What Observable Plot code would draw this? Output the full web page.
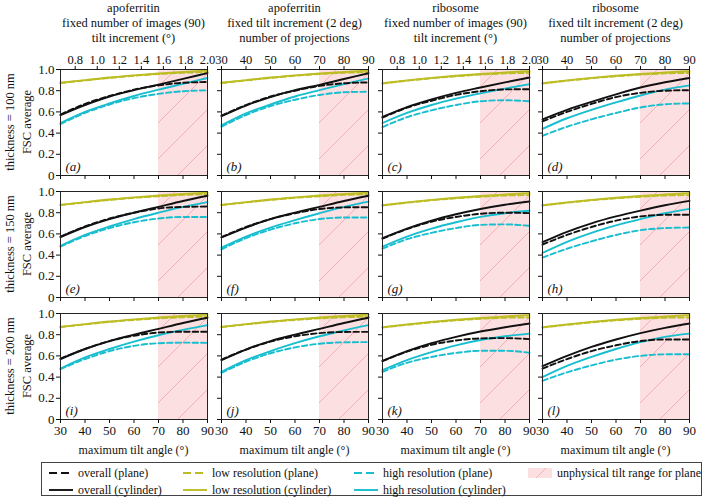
<!DOCTYPE html>
<html>
<head>
<meta charset="utf-8">
<script src="https://cdn.jsdelivr.net/npm/d3@7"></script>
<script src="https://cdn.jsdelivr.net/npm/@observablehq/plot@0.6"></script>
<style>
  html, body { margin: 0; padding: 0; background: #fff; }
  #root { position: relative; width: 705px; height: 502px; overflow: hidden; font-family: "Liberation Serif", "DejaVu Serif", serif; color: #111; }
  .t { position: absolute; white-space: nowrap; font-size: 12.5px; line-height: 15px; }
  .c { transform: translate(-50%, -50%); text-align: center; }
  .rot { transform: translate(-50%, -50%) rotate(-90deg); }
  .panel { position: absolute; }
  .panel svg { overflow: visible; font-family: "Liberation Serif", "DejaVu Serif", serif !important; }
  .panel svg text { font-family: "Liberation Serif", "DejaVu Serif", serif !important; }
  #legend { position: absolute; left: 41px; top: 462px; width: 661px; height: 34px; border: 1px solid #444; box-sizing: border-box; }
  .li { position: absolute; font-size: 12px; white-space: nowrap; transform: translateY(-50%); }
  .sw { position: absolute; transform: translateY(-50%); }
</style>
</head>
<body>
<div id="root"></div>
<script>
// ---------------- data ----------------
const angles = [30, 40, 50, 60, 70, 80, 90];
const panelLetters = ["a","b","c","d","e","f","g","h","i","j","k","l"];
const columnTitles = [
  ["apoferritin", "fixed number of images (90)", "tilt increment (°)"],
  ["apoferritin", "fixed tilt increment (2 deg)", "number of projections"],
  ["ribosome", "fixed number of images (90)", "tilt increment (°)"],
  ["ribosome", "fixed tilt increment (2 deg)", "number of projections"]
];
const rowLabels = ["thickness = 100 nm", "thickness = 150 nm", "thickness = 200 nm"];
const yLabel = "FSC average";
const xLabel = "maximum tilt angle (°)";
const angleTicks = [30, 40, 50, 60, 70, 80, 90];
const incrementTicks = [0.8, 1.0, 1.2, 1.4, 1.6, 1.8, 2.0];
const projectionTicks = [30, 40, 50, 60, 70, 80, 90];
const yTicks = [0, 0.2, 0.4, 0.6, 0.8, 1.0];
const yTickLabels = ["0", "0.2", "0.4", "0.6", "0.8", "1.0"];
const unphysicalRange = [70, 90];

// one row per panel (a..l), values at angles 30..90
const overallPlane = [
  [0.575, 0.675, 0.750, 0.810, 0.850, 0.875, 0.882],
  [0.565, 0.665, 0.745, 0.800, 0.845, 0.870, 0.878],
  [0.545, 0.640, 0.705, 0.760, 0.795, 0.812, 0.814],
  [0.510, 0.600, 0.675, 0.740, 0.780, 0.800, 0.805],
  [0.575, 0.670, 0.745, 0.800, 0.840, 0.855, 0.858],
  [0.570, 0.665, 0.740, 0.795, 0.835, 0.850, 0.852],
  [0.555, 0.645, 0.715, 0.760, 0.790, 0.800, 0.796],
  [0.500, 0.590, 0.665, 0.725, 0.765, 0.780, 0.780],
  [0.575, 0.665, 0.740, 0.790, 0.820, 0.828, 0.828],
  [0.565, 0.660, 0.735, 0.785, 0.815, 0.826, 0.827],
  [0.550, 0.640, 0.705, 0.745, 0.765, 0.768, 0.758],
  [0.480, 0.570, 0.645, 0.700, 0.740, 0.755, 0.755]
];
const overallCylinder = [
  [0.570, 0.665, 0.745, 0.805, 0.858, 0.912, 0.966],
  [0.560, 0.660, 0.740, 0.805, 0.855, 0.910, 0.965],
  [0.552, 0.645, 0.718, 0.780, 0.830, 0.878, 0.924],
  [0.530, 0.620, 0.695, 0.765, 0.830, 0.880, 0.920],
  [0.570, 0.665, 0.740, 0.800, 0.855, 0.910, 0.960],
  [0.566, 0.660, 0.740, 0.800, 0.855, 0.910, 0.960],
  [0.560, 0.650, 0.725, 0.785, 0.835, 0.875, 0.906],
  [0.522, 0.620, 0.700, 0.765, 0.820, 0.870, 0.912],
  [0.570, 0.665, 0.740, 0.800, 0.855, 0.910, 0.960],
  [0.560, 0.660, 0.740, 0.800, 0.855, 0.910, 0.960],
  [0.553, 0.645, 0.720, 0.780, 0.830, 0.870, 0.906],
  [0.503, 0.600, 0.685, 0.755, 0.815, 0.865, 0.906]
];
const lowResPlane = [
  [0.872, 0.897, 0.921, 0.941, 0.957, 0.969, 0.975],
  [0.872, 0.897, 0.921, 0.941, 0.957, 0.969, 0.975],
  [0.868, 0.894, 0.917, 0.936, 0.952, 0.963, 0.968],
  [0.868, 0.894, 0.917, 0.936, 0.952, 0.963, 0.968],
  [0.872, 0.897, 0.920, 0.940, 0.955, 0.968, 0.975],
  [0.872, 0.897, 0.920, 0.940, 0.955, 0.968, 0.975],
  [0.868, 0.894, 0.917, 0.936, 0.951, 0.962, 0.966],
  [0.868, 0.894, 0.917, 0.936, 0.951, 0.962, 0.966],
  [0.872, 0.897, 0.920, 0.939, 0.954, 0.965, 0.970],
  [0.872, 0.897, 0.920, 0.939, 0.954, 0.965, 0.970],
  [0.868, 0.893, 0.916, 0.935, 0.950, 0.960, 0.963],
  [0.868, 0.893, 0.916, 0.935, 0.950, 0.960, 0.963]
];
const lowResCylinder = [
  [0.875, 0.900, 0.925, 0.945, 0.962, 0.977, 0.990],
  [0.875, 0.900, 0.925, 0.945, 0.962, 0.977, 0.990],
  [0.870, 0.897, 0.921, 0.941, 0.958, 0.972, 0.985],
  [0.870, 0.897, 0.921, 0.941, 0.958, 0.972, 0.985],
  [0.874, 0.900, 0.925, 0.945, 0.962, 0.977, 0.990],
  [0.874, 0.900, 0.925, 0.945, 0.962, 0.977, 0.990],
  [0.870, 0.897, 0.921, 0.941, 0.958, 0.972, 0.985],
  [0.870, 0.897, 0.921, 0.941, 0.958, 0.972, 0.985],
  [0.874, 0.900, 0.925, 0.945, 0.962, 0.977, 0.990],
  [0.874, 0.900, 0.925, 0.945, 0.962, 0.977, 0.990],
  [0.870, 0.897, 0.921, 0.941, 0.958, 0.972, 0.985],
  [0.870, 0.897, 0.921, 0.941, 0.958, 0.972, 0.985]
];
const highResPlane = [
  [0.485, 0.590, 0.670, 0.730, 0.770, 0.795, 0.803],
  [0.460, 0.570, 0.655, 0.715, 0.760, 0.785, 0.790],
  [0.457, 0.550, 0.615, 0.665, 0.700, 0.710, 0.700],
  [0.375, 0.460, 0.530, 0.590, 0.642, 0.672, 0.680],
  [0.480, 0.580, 0.655, 0.710, 0.745, 0.760, 0.760],
  [0.455, 0.560, 0.640, 0.700, 0.740, 0.755, 0.755],
  [0.460, 0.550, 0.610, 0.655, 0.685, 0.690, 0.676],
  [0.377, 0.460, 0.530, 0.590, 0.635, 0.655, 0.660],
  [0.475, 0.570, 0.645, 0.695, 0.720, 0.725, 0.723],
  [0.440, 0.545, 0.625, 0.680, 0.715, 0.728, 0.730],
  [0.450, 0.535, 0.590, 0.628, 0.648, 0.648, 0.630],
  [0.365, 0.445, 0.510, 0.565, 0.600, 0.615, 0.616]
];
const highResCylinder = [
  [0.495, 0.600, 0.680, 0.750, 0.810, 0.865, 0.920],
  [0.473, 0.585, 0.670, 0.745, 0.805, 0.862, 0.915],
  [0.495, 0.590, 0.665, 0.725, 0.775, 0.820, 0.861],
  [0.440, 0.540, 0.620, 0.690, 0.755, 0.810, 0.850],
  [0.487, 0.590, 0.670, 0.740, 0.800, 0.855, 0.900],
  [0.470, 0.575, 0.660, 0.730, 0.795, 0.855, 0.905],
  [0.480, 0.575, 0.650, 0.710, 0.760, 0.795, 0.818],
  [0.420, 0.525, 0.610, 0.680, 0.740, 0.795, 0.836],
  [0.480, 0.585, 0.665, 0.735, 0.795, 0.845, 0.890],
  [0.450, 0.560, 0.645, 0.720, 0.785, 0.840, 0.890],
  [0.465, 0.560, 0.635, 0.700, 0.750, 0.785, 0.810],
  [0.400, 0.505, 0.590, 0.665, 0.730, 0.780, 0.810]
];

const seriesNames = ["overall (plane)", "overall (cylinder)", "low resolution (plane)", "low resolution (cylinder)", "high resolution (plane)", "high resolution (cylinder)"];
const seriesValues = [overallPlane, overallCylinder, lowResPlane, lowResCylinder, highResPlane, highResCylinder];
const seriesColors = ["#111111", "#111111", "#bcbd22", "#bcbd22", "#17becf", "#17becf"];
const seriesDashed = [true, false, true, false, true, false];
const drawOrder = [2, 3, 4, 5, 0, 1];
const unphysicalLabel = "unphysical tilt range for plane";

// ---------------- layout ----------------
const root = document.getElementById("root");
const colX = [60, 221, 382, 542];
const rowY = [69, 191, 313];
const PW = 147, PH = 106;
const ML = 40, MR = 12, MT = 24, MB = 24;
const FONT = "Liberation Serif, DejaVu Serif, serif";
const FS = 13;
const FS_TOP = 12.5;

function addText(txt, x, y, cls, extra) {
  const d = document.createElement("div");
  d.className = "t " + cls;
  d.style.left = x + "px";
  d.style.top = y + "px";
  d.textContent = txt;
  if (extra) Object.assign(d.style, extra);
  root.appendChild(d);
  return d;
}

for (let r = 0; r < 3; r++) {
  for (let c = 0; c < 4; c++) {
    const p = r * 4 + c;
    const rows = [];
    seriesValues.forEach((vals, s) => {
      angles.forEach((a, i) => rows.push({angle: a, fsc: vals[p][i], s}));
    });
    const hatchId = "hatch" + p;
    const marks = [
      Plot.rect([unphysicalRange], {x1: d => d[0], x2: d => d[1], y1: 0, y2: 1, fill: "#fcdfe1"}),
      Plot.rect([unphysicalRange], {x1: d => d[0], x2: d => d[1], y1: 0, y2: 1, fill: `url(#${hatchId})`})
    ];
    drawOrder.forEach(s => {
      marks.push(Plot.line(rows.filter(d => d.s === s), {
        x: "angle", y: "fsc", stroke: seriesColors[s], strokeWidth: 1.9,
        strokeDasharray: seriesDashed[s] ? "5.5,3" : null, curve: "monotone-x"
      }));
    });
    marks.push(Plot.frame({stroke: "#222", strokeWidth: 1}));
    marks.push(Plot.axisX({anchor: "bottom", ticks: angleTicks, tickSize: 4, tickPadding: 2,
      tickFormat: r === 2 ? (d => String(d)) : (() => ""), label: null, fontSize: FS, fontFamily: FONT, fontVariant: "normal"}));
    marks.push(Plot.axisY({anchor: "left", ticks: yTicks, tickSize: 4, tickPadding: 2,
      tickFormat: c === 0 ? ((d, i) => yTickLabels[i]) : (() => ""), label: null, fontSize: FS, fontFamily: FONT, fontVariant: "normal"}));
    if (r === 0) {
      if (c % 2 === 0) {
        // tilt increment (°) = 2 × max tilt / 90 images
        marks.push(Plot.axisX({anchor: "top", ticks: incrementTicks.map(v => v * 90 / 2), tickSize: 4, tickPadding: 2,
          tickFormat: d => (d * 2 / 90).toFixed(1), label: null, fontSize: FS_TOP, fontFamily: FONT, fontVariant: "normal"}));
      } else {
        marks.push(Plot.axisX({anchor: "top", ticks: projectionTicks, tickSize: 4, tickPadding: 2,
          tickFormat: d => String(d), label: null, fontSize: FS_TOP, fontFamily: FONT, fontVariant: "normal"}));
      }
    }
    marks.push(Plot.text([panelLetters[p]], {text: d => `(${d})`, frameAnchor: "bottom-left", dx: 5, dy: -5,
      fontStyle: "italic", fontSize: FS, fontFamily: FONT, fill: "#111"}));

    const svg = Plot.plot({
      width: PW + ML + MR, height: PH + MT + MB,
      marginLeft: ML, marginRight: MR, marginTop: MT, marginBottom: MB,
      x: {domain: [30, 90], label: null},
      y: {domain: [0, 1], label: null},
      style: {fontFamily: FONT, fontSize: FS + "px", background: "transparent", color: "#111", overflow: "visible"},
      marks
    });
    svg.setAttribute("font-family", FONT);
    svg.querySelectorAll("text").forEach(t => t.setAttribute("font-family", FONT));
    svg.insertAdjacentHTML("afterbegin",
      `<defs><pattern id="${hatchId}" patternUnits="userSpaceOnUse" width="36" height="36">
        <path d="M0,36 L36,0 M-18,18 L18,-18 M18,54 L54,18" stroke="#f4a3a6" stroke-width="0.8" fill="none"/>
      </pattern></defs>`);
    const wrap = document.createElement("div");
    wrap.className = "panel";
    wrap.style.left = (colX[c] - ML) + "px";
    wrap.style.top = (rowY[r] - MT) + "px";
    wrap.appendChild(svg);
    root.appendChild(wrap);
  }
}

// column titles
columnTitles.forEach((lines, c) => {
  const cx = colX[c] + PW / 2;
  lines.forEach((l, k) => addText(l, cx, 8 + k * 15, "c"));
});
// x labels
for (let c = 0; c < 4; c++) addText(xLabel, colX[c] + PW / 2, 450, "c", {fontSize: "12px"});
// row labels
rowLabels.forEach((l, r) => {
  const cy = rowY[r] + PH / 2;
  addText(l, 10, cy, "rot");
  addText(yLabel, 27, cy, "rot");
});

// legend
const legend = document.createElement("div");
legend.id = "legend";
root.appendChild(legend);
const legendPos = [
  [6, 10], [6, 27], [140, 10], [140, 27], [311, 10], [311, 27]
];
seriesNames.forEach((name, s) => {
  const [lx, ly] = legendPos[s];
  const sw = document.createElementNS("http://www.w3.org/2000/svg", "svg");
  sw.setAttribute("width", 26); sw.setAttribute("height", 6);
  sw.setAttribute("class", "sw");
  sw.style.left = lx + "px"; sw.style.top = ly + "px";
  sw.innerHTML = `<line x1="1" y1="3" x2="25" y2="3" stroke="${seriesColors[s]}" stroke-width="1.9" ${seriesDashed[s] ? 'stroke-dasharray="8,4"' : ""}/>`;
  legend.appendChild(sw);
  const t = document.createElement("div");
  t.className = "li";
  t.style.left = (lx + 30) + "px"; t.style.top = ly + "px";
  t.textContent = name;
  legend.appendChild(t);
});
{
  const sw = document.createElementNS("http://www.w3.org/2000/svg", "svg");
  sw.setAttribute("width", 26); sw.setAttribute("height", 10);
  sw.setAttribute("class", "sw");
  sw.style.left = "485px"; sw.style.top = "10px";
  sw.innerHTML = `<rect x="1" y="0" width="24" height="10" fill="#fcdfe1"/><line x1="9" y1="10" x2="19" y2="0" stroke="#f4a3a6" stroke-width="0.8"/>`;
  legend.appendChild(sw);
  const t = document.createElement("div");
  t.className = "li";
  t.style.left = "515px"; t.style.top = "10px";
  t.textContent = unphysicalLabel;
  legend.appendChild(t);
}
</script>
</body>
</html>
